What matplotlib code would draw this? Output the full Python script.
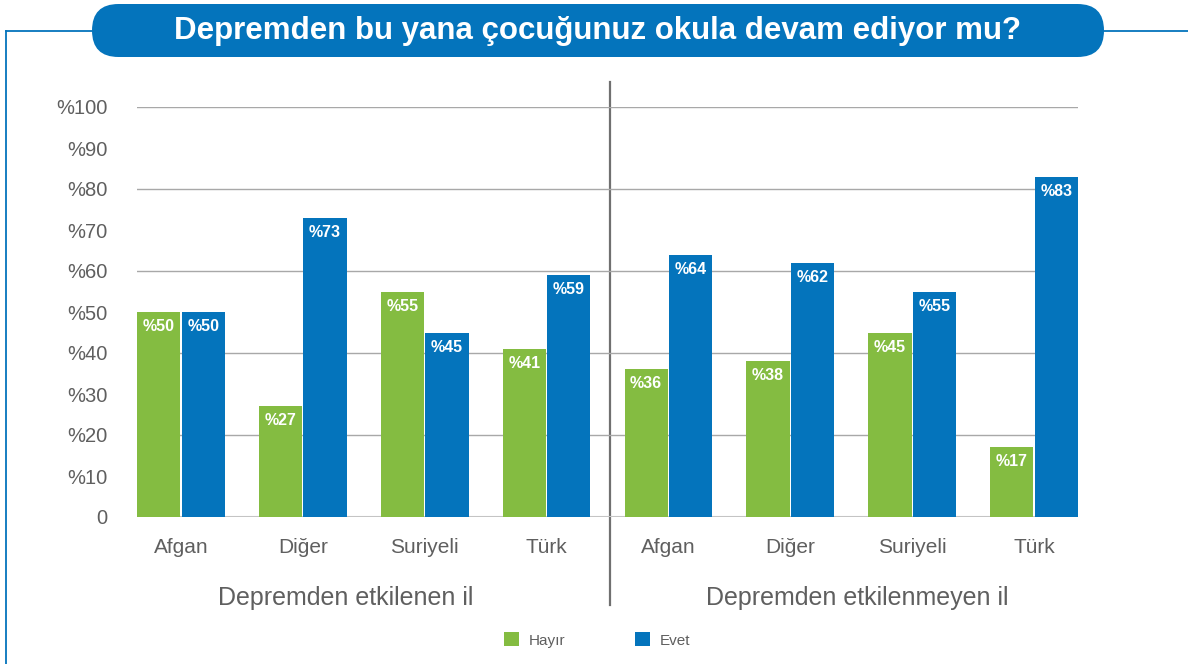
import matplotlib
matplotlib.use("Agg")
import matplotlib.pyplot as plt
from matplotlib.patches import FancyBboxPatch
import numpy as np

plt.rcParams['font.family'] = ['Liberation Sans', 'DejaVu Sans']

title = "Depremden bu yana çocuğunuz okula devam ediyor mu?"
categories = ["Afgan", "Diğer", "Suriyeli", "Türk", "Afgan", "Diğer", "Suriyeli", "Türk"]
groups = ["Depremden etkilenen il", "Depremden etkilenmeyen il"]
series_names = ["Hayır", "Evet"]
hayir = [50, 27, 55, 41, 36, 38, 45, 17]
evet = [50, 73, 45, 59, 64, 62, 55, 83]
ytick_vals = list(range(0, 101, 10))
ytick_labels = ["0"] + ["%" + str(v) for v in ytick_vals[1:]]

GREEN = "#84BC41"
BLUE = "#0474BC"
GRAY_TXT = "#5f5f5f"

W, H = 1188, 664
fig = plt.figure(figsize=(W / 100, H / 100), dpi=100)

# overlay for decorations in pixel coords
ov = fig.add_axes([0, 0, 1, 1], zorder=0)
ov.set_xlim(0, W)
ov.set_ylim(H, 0)
ov.axis("off")

# frame lines
ov.plot([6, 6], [31, H], color=BLUE, lw=1.3)
ov.plot([6, 100], [31, 31], color=BLUE, lw=1.3)
ov.plot([1095, W], [31, 31], color=BLUE, lw=1.3)
# pill
ph = 53
ov.add_patch(FancyBboxPatch((92, 4), 1104 - 92, ph,
                            boxstyle=f"round,pad=0,rounding_size={ph/2}",
                            fc=BLUE, ec="none"))
ov.text(597, 31, title, color="white", fontsize=22.5, fontweight="bold",
        ha="center", va="center")
# separator
ov.plot([610, 610], [82, 605], color="#707070", lw=1.6)

# main axes
left_px, right_px, zero_px, top_px = 137, 1078, 517, 107
ax = fig.add_axes([left_px / W, (H - zero_px) / H, (right_px - left_px) / W,
                   (zero_px - top_px) / H], zorder=1)
ax.set_facecolor("none")
x = np.arange(len(categories))
bw = 0.355
off = 0.183
ax.set_xlim(-0.36, 7.36)
ax.set_ylim(0, 100)

for g in range(20, 101, 20):
    ax.axhline(g, color="#a8a8a8", lw=1.0, zorder=0)
ax.axhline(0, color="#c4c4c4", lw=1.5, zorder=0)

b1 = ax.bar(x - off, hayir, bw, color=GREEN, zorder=2, label=series_names[0])
b2 = ax.bar(x + off, evet, bw, color=BLUE, zorder=2, label=series_names[1])

for bars, vals in ((b1, hayir), (b2, evet)):
    for r, v in zip(bars, vals):
        ax.annotate("%" + str(v), (r.get_x() + r.get_width() / 2, v),
                    xytext=(0, -10.5), textcoords="offset points",
                    ha="center", va="center", color="white",
                    fontsize=11.5, fontweight="bold", zorder=3)

for s in ax.spines.values():
    s.set_visible(False)
ax.set_yticks(ytick_vals)
ax.set_yticklabels(ytick_labels, fontsize=14.5, color=GRAY_TXT)
ax.tick_params(axis="y", length=0, pad=21)
ax.set_xticks(x)
ax.set_xticklabels(categories, fontsize=15, color=GRAY_TXT)
ax.tick_params(axis="x", length=0, pad=15)

# group labels
ov.text(346, 598, groups[0], fontsize=18, color=GRAY_TXT, ha="center", va="center")
ov.text(857, 598, groups[1], fontsize=18, color=GRAY_TXT, ha="center", va="center")

# legend
fig.legend(handles=[b1, b2], labels=series_names, loc="center",
           bbox_to_anchor=(597 / W, (H - 640) / H), ncol=2, frameon=False,
           fontsize=11, handlelength=1.0, handleheight=1.0,
           handletextpad=0.6, columnspacing=4.6, labelcolor=GRAY_TXT)

fig.savefig("out.png", dpi=100)
